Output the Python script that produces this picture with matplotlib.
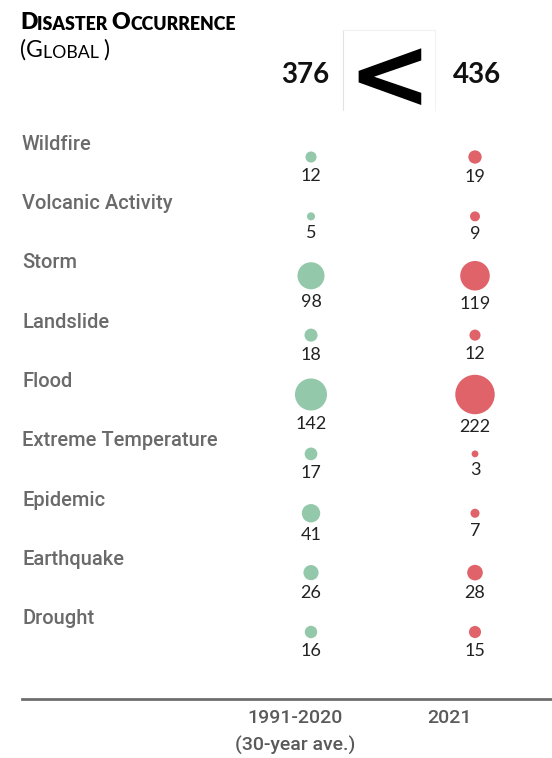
import numpy as np
import matplotlib.pyplot as plt
from matplotlib.lines import Line2D

# Disaster counts by type
categories = ['Wildfire', 'Volcanic Activity', 'Storm', 'Landslide', 'Flood',
              'Extreme Temperature', 'Epidemic', 'Earthquake', 'Drought']
avg_1991_2020 = [12, 5, 98, 18, 142, 17, 41, 26, 16]
year_2021 = [19, 9, 119, 12, 222, 3, 7, 28, 15]
total_avg = 376
total_2021 = 436
period_labels = ['1991-2020', '(30-year ave.)', '2021']

W, H = 552, 758
PT = 0.72  # points per pixel at 100 dpi
fig = plt.figure(figsize=(W / 100, H / 100), dpi=100)

# axes spanning the bubble columns; x=0 is the average, x=1 is 2021
x0, x1 = 311, 475
ytop, ybot = 157, 632
ax = fig.add_axes([x0 / W, 1 - ybot / H, (x1 - x0) / W, (ybot - ytop) / H])
ax.set_xlim(0, 1)
ax.set_ylim(len(categories) - 1, 0)
ax.axis('off')

green = '#93c8aa'
red = '#e0636a'


def diam_px(v):
    return 2.5 + 2.48 * np.sqrt(v)


rows = np.arange(len(categories))
for xi, vals, col in [(0, avg_1991_2020, green), (1, year_2021, red)]:
    d = diam_px(np.array(vals, dtype=float))
    ax.scatter(np.full(len(vals), xi), rows, s=(d * PT) ** 2, color=col,
               edgecolors='none', clip_on=False, zorder=3)
    for r, v, dd in zip(rows, vals, d):
        ax.annotate(str(v), (xi, r), xytext=(0, -(dd / 2 + 13) * PT),
                    textcoords='offset points', ha='center', va='center',
                    fontsize=13, family='Lato', color='#222222')

# category names sit a little above each bubble row
for r, name in zip(rows, categories):
    ax.annotate(name, (0, r), xycoords=('figure fraction', 'data'),
                xytext=(22 * PT, 13 * PT), textcoords='offset points',
                ha='left', va='center', fontsize=14.5, family='Roboto',
                fontweight='medium', color='#6a6a6a')


def small_caps(parts, x, y, weight):
    # chain pieces of text so large and small capitals sit side by side
    prev = fig.text(x / W, 1 - y / H, parts[0][0], fontsize=parts[0][1],
                    fontweight=weight, family='Lato', ha='left', va='bottom')
    for s, size in parts[1:]:
        prev = ax.annotate(s, xy=(1, 0), xycoords=prev, fontsize=size,
                           fontweight=weight, family='Lato', ha='left', va='bottom',
                           annotation_clip=False)


small_caps([('D', 16.5), ('ISASTER ', 12.8), ('O', 16.5), ('CCURRENCE', 12.8)], 20, 33, 'heavy')
small_caps([('(G', 16.5), ('LOBAL ', 12.8), (')', 16.5)], 20, 61, 'normal')

# totals with comparison sign
fig.text(305 / W, 1 - 75 / H, str(total_avg), fontsize=20, fontweight='bold',
         family='Lato', ha='center', va='center', color='#111111')
fig.text(477 / W, 1 - 75 / H, str(total_2021), fontsize=20, fontweight='bold',
         family='Lato', ha='center', va='center', color='#111111')
fig.text(389 / W, 1 - 80 / H, '<', fontsize=72, fontweight='bold',
         family='DejaVu Sans', ha='center', va='center', color='black')
fig.add_artist(Line2D([343 / W, 343 / W], [1 - 30 / H, 1 - 110 / H], color='#e3e3e3', lw=0.8))
fig.add_artist(Line2D([343 / W, 435 / W], [1 - 30 / H, 1 - 30 / H], color='#f0f0f0', lw=0.8))
fig.add_artist(Line2D([435 / W, 435 / W], [1 - 30 / H, 1 - 110 / H], color='#f3f3f3', lw=0.8))

# baseline and period labels
fig.add_artist(Line2D([22 / W, 1], [1 - 699 / H, 1 - 699 / H], color='#6e6e6e', lw=2))
fig.text(295 / W, 1 - 718 / H, period_labels[0], fontsize=14, family='Roboto',
         fontweight='medium', color='#5a5a5a', ha='center', va='center')
fig.text(295 / W, 1 - 745 / H, period_labels[1], fontsize=14, family='Roboto',
         fontweight='medium', color='#5a5a5a', ha='center', va='center')
fig.text(449 / W, 1 - 718 / H, period_labels[2], fontsize=14, family='Roboto',
         fontweight='medium', color='#5a5a5a', ha='center', va='center')

fig.savefig('out.png', dpi=100)
